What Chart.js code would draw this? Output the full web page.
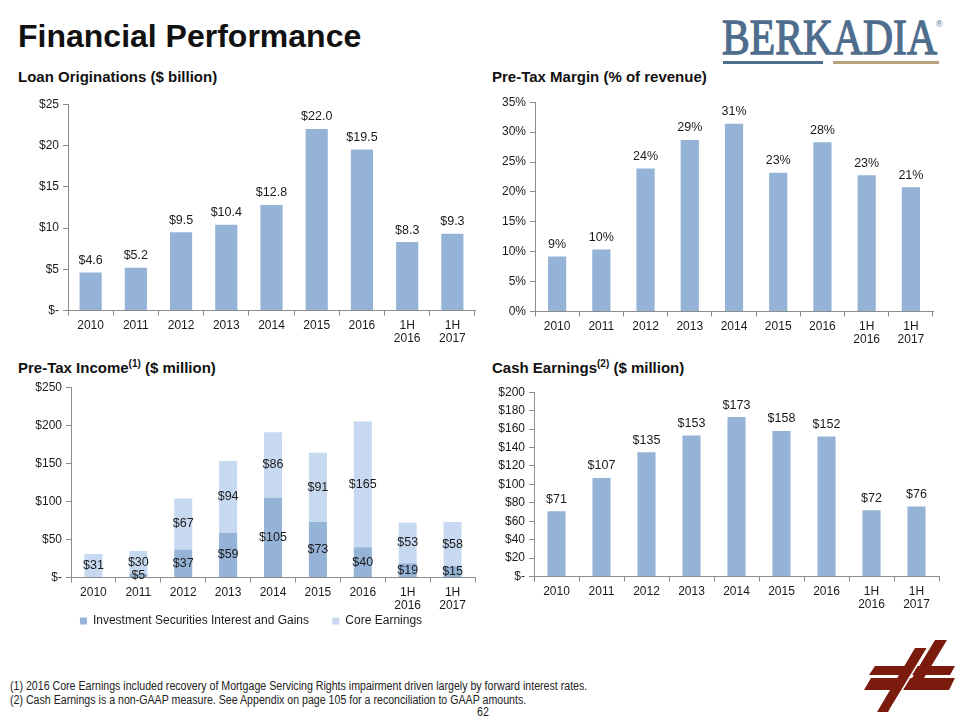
<!DOCTYPE html>
<html>
<head>
<meta charset="utf-8">
<script src="https://cdn.jsdelivr.net/npm/chart.js@4/dist/chart.umd.min.js"></script>
<style>
  body { margin: 0; background: #fff; font-family: "Liberation Sans", Arial, sans-serif; }
  #page { position: relative; width: 960px; height: 720px; overflow: hidden; background: #fff; }
  .abs { position: absolute; }
  .title { left: 18px; top: 18px; font-size: 32px; font-weight: bold; color: #111; }
  .sub { font-size: 15px; font-weight: bold; color: #111; white-space: nowrap; }
  .sub sup { font-size: 10px; line-height: 0; }
  .note { left: 10px; font-size: 12px; color: #222; white-space: nowrap; transform: scaleX(0.885); transform-origin: left top; }
  canvas { display: block; }
</style>
</head>
<body>
<div id="page">
  <div class="abs title">Financial Performance</div>

  <svg class="abs" style="left:700px;top:0px" width="260" height="75">
    <text x="22" y="54" font-family="Liberation Serif, serif" font-size="50"
          fill="#4e6d8d" stroke="#4e6d8d" stroke-width="1.3" textLength="215" lengthAdjust="spacingAndGlyphs">BERKADIA</text>
    <rect x="23" y="61" width="100" height="3" fill="#4e6d8d"></rect>
    <rect x="133" y="61" width="106" height="3" fill="#b7a57d"></rect>
    <text x="236" y="27" font-family="Liberation Sans, sans-serif" font-size="9" fill="#4e6d8d">®</text>
  </svg>

  <div class="abs sub" style="left:18px;top:68px">Loan Originations ($ billion)</div>
  <div class="abs sub" style="left:492px;top:68px">Pre-Tax Margin (% of revenue)</div>
  <div class="abs sub" style="left:18px;top:359px">Pre-Tax Income<sup>(1)</sup> ($ million)</div>
  <div class="abs sub" style="left:492px;top:359px">Cash Earnings<sup>(2)</sup> ($ million)</div>

  <div class="abs" style="left:0px;top:93px"><canvas id="loans" width="480" height="255"></canvas></div>
  <div class="abs" style="left:480px;top:91px"><canvas id="margin" width="480" height="258"></canvas></div>
  <div class="abs" style="left:0px;top:376px"><canvas id="income" width="480" height="261"></canvas></div>
  <div class="abs" style="left:480px;top:381px"><canvas id="cash" width="480" height="233"></canvas></div>

  <div class="abs note" style="top:679px">(1) 2016 Core Earnings included recovery of Mortgage Servicing Rights impairment driven largely by forward interest rates.</div>
  <div class="abs note" style="top:693px">(2) Cash Earnings is a non-GAAP measure. See Appendix on page 105 for a reconciliation to GAAP amounts.</div>
  <div class="abs note" style="left:477px;top:705px">62</div>

  <svg class="abs" style="left:860px;top:630px" width="100" height="90">
    <g fill="#7a1b0e">
      <polygon points="15,36 95,36 90,45 9,45"></polygon>
      <polygon points="11,48 95,48 89,60 4,60"></polygon>
      <polygon points="55,18 67,18 28,82 17,82"></polygon>
      <polygon points="75,10 87,10 58,58 46,58"></polygon>
    </g>
    <line x1="70" y1="14" x2="30" y2="80" stroke="#fff" stroke-width="1.5"></line>
  </svg>
</div>

<script>
// categories
const years = ['2010', '2011', '2012', '2013', '2014', '2015', '2016', ['1H', '2016'], ['1H', '2017']];

// values
const loanOriginations = [4.6, 5.2, 9.5, 10.4, 12.8, 22.0, 19.5, 8.3, 9.3];
const preTaxMargin = [9.2, 10.4, 23.9, 28.7, 31.4, 23.2, 28.3, 22.8, 20.8];
const investmentGains = [0, 5, 37, 59, 105, 73, 40, 19, 15];
const coreEarnings = [31, 30, 67, 94, 86, 91, 165, 53, 58];
const cashEarnings = [71, 107, 135, 153, 173, 158, 152, 72, 76];

const barBlue = '#95b3d7';
const lightBlue = '#c6d9f1';
const axisGrey = '#8c8c8c';
const textCol = '#1a1a1a';

Chart.defaults.font.family = '"Liberation Sans", Arial, sans-serif';
Chart.defaults.font.size = 12;
Chart.defaults.color = textCol;
Chart.defaults.animation = false;

// draws the value labels on / above the bars
const valueLabels = {
    id: 'valueLabels',
    afterDatasetsDraw(chart, args, opts) {
        const ctx = chart.ctx;
        ctx.save();
        ctx.font = '12.5px "Liberation Sans", Arial, sans-serif';
        ctx.fillStyle = textCol;
        ctx.textAlign = 'center';
        ctx.textBaseline = 'middle';
        chart.data.datasets.forEach((ds, i) => {
            const meta = chart.getDatasetMeta(i);
            meta.data.forEach((bar, j) => {
                const v = ds.data[j];
                if (!v) return;
                const y = opts.inside ? (bar.y + bar.base) / 2 : bar.y - 12;
                ctx.fillText(opts.format(v), bar.x, y);
            });
        });
        ctx.restore();
    }
};

function dollar(v) {
    return v === 0 ? '$-' : '$' + v;
}

function makeScales(yMax, yStep, yWidth, tickCb) {
    return {
        x: {
            border: { color: axisGrey, width: 1 },
            grid: { display: true, drawOnChartArea: false, drawTicks: true, tickLength: 5, color: axisGrey, offset: true },
            ticks: { padding: 3, maxRotation: 0, autoSkip: false, font: { size: 12, lineHeight: 1.1 }, color: textCol }
        },
        y: {
            min: 0, max: yMax,
            border: { color: axisGrey, width: 1 },
            grid: { display: true, drawOnChartArea: false, drawTicks: true, tickLength: 5, color: axisGrey },
            ticks: { stepSize: yStep, padding: 4, callback: tickCb, color: textCol },
            afterFit(scale) { scale.width = yWidth; }
        }
    };
}

new Chart(document.getElementById('loans'), {
    type: 'bar',
    data: {
        labels: years,
        datasets: [{ data: loanOriginations, backgroundColor: barBlue, barPercentage: 0.98, categoryPercentage: 0.5 }]
    },
    options: {
        responsive: false,
        layout: { padding: { top: 2, right: 5, left: 0, bottom: 0 } },
        plugins: { legend: { display: false }, tooltip: { enabled: false },
            valueLabels: { format: v => '$' + v.toFixed(1) } },
        scales: makeScales(25, 5, 68, dollar)
    },
    plugins: [valueLabels]
});

new Chart(document.getElementById('margin'), {
    type: 'bar',
    data: {
        labels: years,
        datasets: [{ data: preTaxMargin, backgroundColor: barBlue, barPercentage: 0.98, categoryPercentage: 0.42 }]
    },
    options: {
        responsive: false,
        layout: { padding: { top: 2, right: 27, left: 0, bottom: 0 } },
        plugins: { legend: { display: false }, tooltip: { enabled: false },
            valueLabels: { format: v => Math.round(v) + '%' } },
        scales: makeScales(35, 5, 55, v => v + '%')
    },
    plugins: [valueLabels]
});

const incomeScales = makeScales(250, 50, 44, dollar);
incomeScales.x.stacked = true;
incomeScales.y.stacked = true;

new Chart(document.getElementById('income'), {
    type: 'bar',
    data: {
        labels: years,
        datasets: [
            { label: 'Investment Securities Interest and Gains', data: investmentGains, backgroundColor: barBlue, barPercentage: 0.98, categoryPercentage: 0.41 },
            { label: 'Core Earnings', data: coreEarnings, backgroundColor: lightBlue, barPercentage: 0.98, categoryPercentage: 0.41 }
        ]
    },
    options: {
        responsive: false,
        layout: { padding: { top: 2, right: 5, left: 27, bottom: 0 } },
        plugins: {
            legend: {
                display: true, position: 'bottom',
                labels: {
                    boxWidth: 7, boxHeight: 7, padding: 0, color: textCol, font: { size: 12 },
                    // padding 0 keeps the legend tight under the axis; trailing spaces give the gap between items
                    generateLabels(chart) {
                        const items = Chart.defaults.plugins.legend.labels.generateLabels(chart);
                        items[0].text += '       ';
                        return items;
                    }
                }
            },
            tooltip: { enabled: false },
            valueLabels: { inside: true, format: v => '$' + v }
        },
        scales: incomeScales
    },
    plugins: [valueLabels]
});

new Chart(document.getElementById('cash'), {
    type: 'bar',
    data: {
        labels: years,
        datasets: [{ data: cashEarnings, backgroundColor: barBlue, barPercentage: 0.98, categoryPercentage: 0.41 }]
    },
    options: {
        responsive: false,
        layout: { padding: { top: 2, right: 21, left: 0, bottom: 0 } },
        plugins: { legend: { display: false }, tooltip: { enabled: false },
            valueLabels: { format: v => '$' + v } },
        scales: makeScales(200, 20, 54, dollar)
    },
    plugins: [valueLabels]
});
</script>
</body>
</html>
